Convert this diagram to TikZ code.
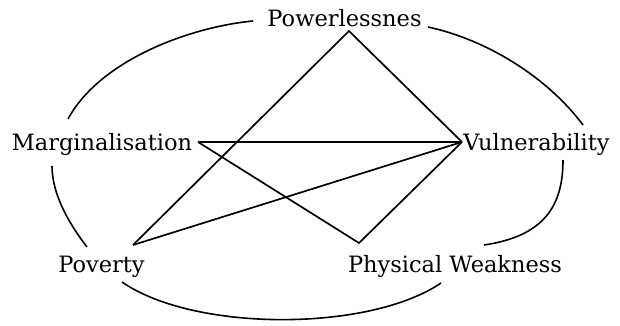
\documentclass[tikz,border=0pt]{standalone}
\usepackage{fontspec}
\setmainfont{DejaVu Serif}
\begin{document}
\begin{tikzpicture}[x=1pt,y=-1pt,
  lbl/.style={anchor=base,inner sep=0pt,font=\fontsize{22.5}{26}\selectfont},
  link/.style={line width=1.7pt,line join=miter},
  arcline/.style={line width=1.6pt}]
\useasboundingbox (0,0) rectangle (620,326);
% labels
\node[lbl] (pow) at (344.5,27) {Powerlessnes};
\node[lbl] (mar) at (102,150) {Marginalisation};
\node[lbl] (vul) at (536.5,150) {Vulnerability};
\node[lbl] (pov) at (101.5,272) {Poverty};
\node[lbl] (phy) at (455,272) {Physical Weakness};
% vertices of the star
\coordinate (vpow) at (349,31);
\coordinate (vmar) at (198,142);
\coordinate (vvul) at (462,142);
\coordinate (vpov) at (133,245);
\coordinate (vphy) at (359,243);
% straight links
\draw[link] (vpov) -- (vpow) -- (vvul);
\draw[link] (vmar) -- (vvul);
\draw[link] (vvul) -- (vpov);
\draw[link] (vvul) -- (vphy) -- (vmar);
% curve end points
\coordinate (a1) at (253,21);
\coordinate (a2) at (68,119);
\coordinate (b1) at (428,27);
\coordinate (b2) at (583,125);
\coordinate (c1) at (52,166);
\coordinate (c2) at (87,247);
\coordinate (d1) at (563,160);
\coordinate (d2) at (484,245);
\coordinate (e1) at (122,282);
\coordinate (e2) at (441,283);
% arcs
\draw[arcline] (a1) .. controls (190,27) and (100,60) .. (a2);
\draw[arcline] (b1) .. controls (488,40) and (548,78) .. (b2);
\draw[arcline] (c1) .. controls (52,195) and (70,225) .. (c2);
\draw[arcline] (d1) .. controls (563,205) and (545,236) .. (d2);
\draw[arcline] (e1) .. controls (194,332) and (369,332) .. (e2);
\end{tikzpicture}
\end{document}
